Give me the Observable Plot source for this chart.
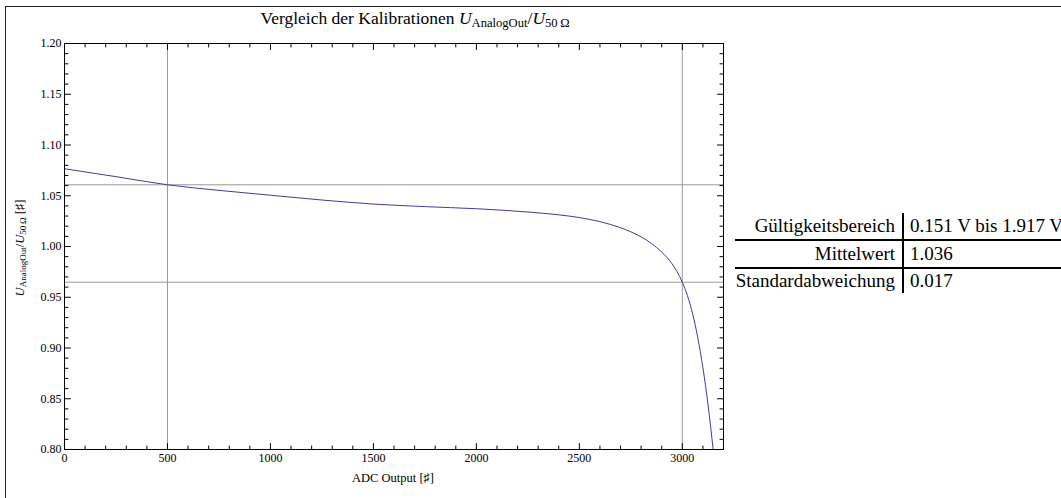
<!DOCTYPE html>
<html>
<head>
<meta charset="utf-8">
<script src="https://cdn.jsdelivr.net/npm/d3@7"></script>
<script src="https://cdn.jsdelivr.net/npm/@observablehq/plot@0.6"></script>
<style>
  html, body { margin: 0; padding: 0; background: white; }
  body { width: 1061px; height: 498px; overflow: hidden; position: relative; font-family: "Liberation Serif", "Times New Roman", "DejaVu Serif", serif; color: #000; }
  #border { position: absolute; left: 5px; top: 6px; width: 1200px; height: 700px; border-left: 1.5px solid #222; border-top: 1.5px solid #222; pointer-events: none; }
  #chart { position: absolute; left: 0; top: 0; }
  .lbl { position: absolute; white-space: nowrap; line-height: 1; }
  .lbl sub { font-size: 72%; vertical-align: -0.25em; line-height: 0; }
  #title { left: 415px; top: 10px; transform: translateX(-50%); font-size: 17.5px; }
  #xlabel { left: 393px; top: 472px; transform: translateX(-50%); font-size: 12.5px; }
  #ylabel { left: 20px; top: 248px; transform: translate(-50%, -50%) rotate(-90deg); font-size: 12.5px; }
  #tbl { position: absolute; left: 735px; top: 213px; display: grid; grid-template-columns: 169px auto; grid-template-rows: 28px 28px 24px; font-size: 19px; white-space: nowrap; }
  #tbl .c { box-sizing: border-box; display: flex; align-items: flex-end; line-height: 19px; padding-bottom: 4px; }
  #tbl .k { justify-content: flex-end; padding-right: 7px; border-right: 2px solid #000; }
  #tbl .v { padding-left: 6px; }
  #tbl .sep { border-bottom: 2px solid #000; }
  #tbl .last { padding-bottom: 3px; }
</style>
</head>
<body>
<div id="chart"></div>
<div id="border"></div>
<div id="title" class="lbl">Vergleich der Kalibrationen <i>U</i><sub>AnalogOut</sub>/<i>U</i><sub>50&#8201;Ω</sub></div>
<div id="xlabel" class="lbl">ADC Output [♯]</div>
<div id="ylabel" class="lbl"><i>U</i><sub>AnalogOut</sub>/<i>U</i><sub>50&#8201;Ω</sub> [♯]</div>
<div id="tbl"></div>
<script>
// ---- data ----
const adcOutput = [0, 250, 500, 750, 1000, 1250, 1500, 1750, 2000, 2250, 2400, 2500, 2600, 2700, 2750, 2800, 2850, 2900, 2950, 3000, 3025, 3050, 3075, 3100, 3125, 3150];
const ratio     = [1.0766, 1.0688, 1.0608, 1.0553, 1.0505, 1.0458, 1.0418, 1.0393, 1.0372, 1.0340, 1.0312, 1.0285, 1.0245, 1.0185, 1.0145, 1.0095, 1.0030, 0.9945, 0.9830, 0.9648, 0.9515, 0.9338, 0.9102, 0.8807, 0.8439, 0.7996];
const gridX = [500, 3000];
const gridY = [1.0608, 0.9648];
const xDomain = [0, 3200];
const yDomain = [0.80, 1.20];
const xMajorTicks = [0, 500, 1000, 1500, 2000, 2500, 3000];
const yMajorTicks = [0.80, 0.85, 0.90, 0.95, 1.00, 1.05, 1.10, 1.15, 1.20];
const tableLabels = ["Gültigkeitsbereich", "Mittelwert", "Standardabweichung"];
const tableValues = ["0.151 V bis 1.917 V", "1.036", "0.017"];

// ---- derived ----
const data = adcOutput.map((x, i) => ({x, y: ratio[i]}));
const xMinorTicks = d3.range(0, 3201, 100).filter(v => v % 500 !== 0 && v < 3200);
const yMinorTicks = d3.range(80, 121, 1).map(v => v / 100).filter(v => Math.round(v * 100) % 5 !== 0);

const tickShape = { draw(context, l) { context.moveTo(0, 0); context.lineTo(0, -l); } };
const tickOpts = (len, rot, xs, ys) => ({x: xs, y: ys, length: len, rotate: rot, anchor: "start", shape: tickShape, stroke: "#000", fill: "none", strokeWidth: 1});
const xMin = xDomain[0], xMax = xDomain[1], yMin = yDomain[0], yMax = yDomain[1];

const plot = Plot.plot({
  width: 730,
  height: 498,
  marginLeft: 64,
  marginRight: 7,
  marginTop: 43,
  marginBottom: 49,
  style: {background: "transparent", fontFamily: "Liberation Serif, Times New Roman, serif", fontSize: "12px", color: "#000"},
  x: {domain: xDomain, axis: null},
  y: {domain: yDomain, axis: null},
  marks: [
    Plot.ruleX(gridX, {stroke: "#999", strokeWidth: 1}),
    Plot.ruleY(gridY, {stroke: "#999", strokeWidth: 1}),
    Plot.line(data, {x: "x", y: "y", stroke: "#3d3d99", strokeWidth: 1, curve: "monotone-x", clip: true}),
    Plot.frame({stroke: "#000", strokeWidth: 1}),
    // bottom ticks
    Plot.vector(xMajorTicks, tickOpts(6, 0, d => d, () => yMin)),
    Plot.vector(xMinorTicks, tickOpts(3.5, 0, d => d, () => yMin)),
    // top ticks
    Plot.vector(xMajorTicks, tickOpts(6, 180, d => d, () => yMax)),
    Plot.vector(xMinorTicks, tickOpts(3.5, 180, d => d, () => yMax)),
    // left ticks
    Plot.vector(yMajorTicks, tickOpts(6, 90, () => xMin, d => d)),
    Plot.vector(yMinorTicks, tickOpts(3.5, 90, () => xMin, d => d)),
    // right ticks
    Plot.vector(yMajorTicks, tickOpts(6, 270, () => xMax, d => d)),
    Plot.vector(yMinorTicks, tickOpts(3.5, 270, () => xMax, d => d)),
    Plot.axisX(xMajorTicks, {anchor: "bottom", tickSize: 0, tickPadding: 4, tickFormat: d3.format("d"), label: null}),
    Plot.axisY(yMajorTicks, {anchor: "left", tickSize: 0, tickPadding: 3, tickFormat: d3.format(".2f"), label: null})
  ]
});
document.getElementById("chart").appendChild(plot);

// ---- info table ----
const tbl = document.getElementById("tbl");
tableLabels.forEach((k, i) => {
  const last = i === tableLabels.length - 1;
  const a = document.createElement("div");
  a.className = "c k" + (last ? " last" : " sep");
  a.textContent = k;
  const b = document.createElement("div");
  b.className = "c v" + (last ? " last" : " sep");
  b.textContent = tableValues[i];
  tbl.appendChild(a); tbl.appendChild(b);
});
</script>
</body>
</html>
